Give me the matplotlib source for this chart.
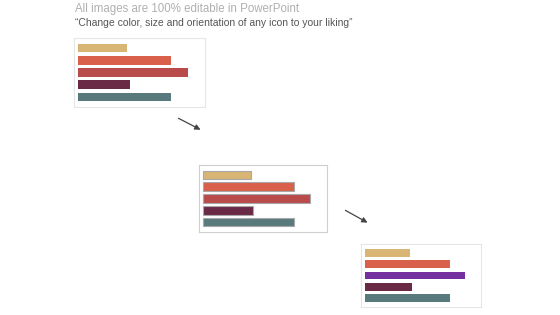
import matplotlib
matplotlib.use("Agg")
import matplotlib.pyplot as plt

# bar values (same five bars repeated in three panels)
values = [45, 85, 100, 47, 85]
colors_a = ["#D8B574", "#D9604A", "#B94B4B", "#6A2A45", "#587A7C"]
colors_c = ["#D8B574", "#D9604A", "#7530A0", "#6A2A45", "#587A7C"]

title = "All images are 100% editable in PowerPoint"
subtitle = "\u201cChange color, size and orientation of any icon to your liking\u201d"

W, H = 560, 315
fig = plt.figure(figsize=(W / 100, H / 100), dpi=100)
fig.patch.set_facecolor("white")


def px_axes(x0, y0, x1, y1):
    # pixel box (top-left origin) -> figure axes
    return fig.add_axes([x0 / W, 1 - y1 / H, (x1 - x0) / W, (y1 - y0) / H])


def panel(rect, colors, box_color="#E6E6E6", bar_edge=None):
    ax = px_axes(*rect)
    ax.barh(range(len(values)), values, height=0.7, color=colors,
            edgecolor=bar_edge if bar_edge else "none",
            linewidth=0.8 if bar_edge else 0)
    ax.set_xlim(-4, 116)
    ax.set_ylim(4.82, -0.82)
    ax.set_xticks([])
    ax.set_yticks([])
    for s in ax.spines.values():
        s.set_color(box_color)
        s.set_linewidth(0.8)
    return ax


panel((74, 38, 205, 107), colors_a)
panel((199, 165, 327, 232), colors_a, box_color="#CFCFCF", bar_edge="#A8A8A8")
panel((361, 244, 481, 307), colors_c)

# arrows between panels
for (x0, y0, x1, y1) in [(176, 117, 203, 131), (343, 209, 370, 224)]:
    fig.add_artist(matplotlib.patches.FancyArrowPatch(
        (x0 / W, 1 - y0 / H), (x1 / W, 1 - y1 / H),
        transform=fig.transFigure, arrowstyle="-|>", mutation_scale=8,
        color="#444444", lw=0.9))

fig.text(75 / W, 1 - 9 / H, title, fontsize=8.3, color="#B0B0B0",
         va="center", ha="left", family="Liberation Sans")
fig.text(75 / W, 1 - 22.5 / H, subtitle, fontsize=7.5, color="#555555",
         va="center", ha="left", family="Liberation Sans")

fig.savefig("out.png", dpi=100)
